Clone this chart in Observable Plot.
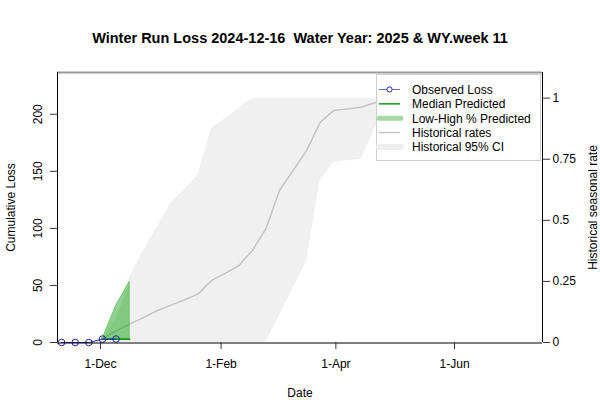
<!DOCTYPE html>
<html><head><meta charset="utf-8">
<script src="https://cdn.jsdelivr.net/npm/d3@7"></script>
<script src="https://cdn.jsdelivr.net/npm/@observablehq/plot@0.6"></script>
<style>body{margin:0;background:#fff}</style>
</head><body><div id="chart"></div>
<script>
// ---- data ----
const titleText = "Winter Run Loss 2024-12-16  Water Year: 2025 & WY.week 11";
const obsDates = ["2024-11-11","2024-11-18","2024-11-25","2024-12-02","2024-12-09"];
const obsLoss = [0,0,0,3,3];
const predDates = ["2024-12-02","2024-12-09","2024-12-16"];
const predMedian = [3,3,3];
const predLow = [3,3,3];
const predHighOuter = [3,32,53];
const predHighInner = [3,21,51];
const histDates = ["2024-12-02","2024-12-09","2024-12-16","2024-12-23","2024-12-30","2025-01-06","2025-01-13","2025-01-20","2025-01-27","2025-02-03","2025-02-10","2025-02-17","2025-02-24","2025-03-03","2025-03-10","2025-03-17","2025-03-24","2025-03-31","2025-04-07","2025-04-14","2025-04-21","2025-04-28"];
const histRate  = [0.016,0.048,0.075,0.102,0.13,0.152,0.174,0.198,0.253,0.283,0.314,0.376,0.465,0.622,0.704,0.786,0.902,0.95,0.956,0.963,0.981,1.0];
const histUpper = [0.016,0.144,0.266,0.376,0.47,0.567,0.625,0.684,0.875,0.916,0.957,1.0,1.0,1.0,1.0,1.0,1.0,1.0,1.0,1.0,1.0,1.0];
const histLower = [0,0,0,0,0,0,0,0,0,0,0,0,0,0.11,0.22,0.335,0.663,0.738,0.744,0.749,0.875,1.0];
const xTicks = ["2024-12-01","2025-02-01","2025-04-01","2025-06-01"];
const lossTicks = [0,50,100,150,200];
const rateTicks = [0,0.25,0.5,0.75,1];
const xDomain = ["2024-11-08T21:36:00Z","2025-07-16T05:00:00Z"];
const lossMax = 236.6, rateMax = 1.105;

// ---- build ----
const K = lossMax / rateMax; // loss units per rate unit (right axis)
const P = d => new Date(d);
const obs = obsDates.map((d,i)=>({date:P(d), v:obsLoss[i]}));
const pred = predDates.map((d,i)=>({date:P(d), med:predMedian[i], lo:predLow[i], hiO:predHighOuter[i], hiI:predHighInner[i]}));
const hist = histDates.map((d,i)=>({date:P(d), r:histRate[i]*K, lo:histLower[i]*K, hi:histUpper[i]*K}));
const xd = xDomain.map(P);
const font = "Liberation Sans, Arial, Helvetica, sans-serif";

const svg = Plot.plot({
  width: 600, height: 400,
  marginLeft: 57, marginRight: 58, marginTop: 72, marginBottom: 58,
  style: {fontFamily: font, fontSize: "12px", background: "white", color: "black"},
  x: {type: "utc", domain: xd},
  y: {domain: [0, lossMax]},
  marks: [
    Plot.areaY(hist, {x: "date", y1: "lo", y2: "hi", fill: "#f0f0f0"}),
    Plot.lineY(hist, {x: "date", y: "r", stroke: "#c4c4c4", strokeWidth: 1.5}),
    Plot.areaY(pred, {x: "date", y1: "lo", y2: "hiO", fill: "#22aa22", fillOpacity: 0.45, stroke: "#3cbb3c", strokeOpacity: 0.8, strokeWidth: 0.8}),
    Plot.areaY(pred, {x: "date", y1: "lo", y2: "hiI", fill: "#22aa22", fillOpacity: 0.15}),
    Plot.lineY(pred, {x: "date", y: "med", stroke: "#129a12", strokeWidth: 1.8}),
    Plot.lineY(obs, {x: "date", y: "v", stroke: "#2a2ab0", strokeWidth: 1}),
    Plot.dot(obs, {x: "date", y: "v", r: 3.3, stroke: "#2020a8", strokeWidth: 1, fill: "none"}),
    // plot box
    Plot.ruleY([lossMax], {stroke: "#9a9a9a", strokeWidth: 2}),
    Plot.ruleX([xd[0]], {stroke: "black"}),
    Plot.ruleX([xd[1]], {stroke: "black"}),
    Plot.ruleY([0], {stroke: "black", dy: 0.5}),
    // axes
    Plot.axisX(xTicks.map(P), {tickSize: 7, tickPadding: 10, tickFormat: d3.utcFormat("%-d-%b"), label: null, stroke: "#333"}),
    Plot.axisY(lossTicks, {anchor: "left", tickSize: 7, tickPadding: 9, tickRotate: -90, label: null, stroke: "#333"}),
    Plot.axisY(rateTicks.map(r => r * K), {anchor: "right", tickSize: 7, tickPadding: 3, label: null, stroke: "#333",
      tickFormat: v => d3.format("~g")(+(v / K).toFixed(4))}),
    // titles
    Plot.text([titleText], {frameAnchor: "top", dy: -29.7, lineAnchor: "bottom", textAnchor: "middle", fontWeight: "bold", fontSize: 14.5}),
    Plot.text(["Date"], {frameAnchor: "bottom", dy: 54.7, lineAnchor: "bottom", textAnchor: "middle"}),
    Plot.text(["Cumulative Loss"], {frameAnchor: "left", dx: -43, rotate: -90, lineAnchor: "bottom", textAnchor: "middle"}),
    Plot.text(["Historical seasonal rate"], {frameAnchor: "right", dx: 54.7, rotate: -90, lineAnchor: "bottom", textAnchor: "middle"})
  ]
});

// ---- legend ----
const legendItems = [
  {label: "Observed Loss", kind: "obs"},
  {label: "Median Predicted", kind: "med"},
  {label: "Low-High % Predicted", kind: "band"},
  {label: "Historical rates", kind: "hist"},
  {label: "Historical 95% CI", kind: "ci"}
];
const lg = d3.select(svg).append("g").attr("font-family", font).attr("font-size", 12).attr("text-anchor", "start");
lg.append("rect").attr("x", 376.5).attr("y", 74.5).attr("width", 164).attr("height", 86)
  .attr("fill", "white").attr("stroke", "#cfcfcf");
legendItems.forEach((it, i) => {
  const y = 89.5 + i * 14.35;
  const row = lg.append("g");
  if (it.kind === "obs") {
    row.append("line").attr("x1", 379).attr("x2", 400).attr("y1", y).attr("y2", y).attr("stroke", "#6a6ac8");
    row.append("circle").attr("cx", 389.5).attr("cy", y).attr("r", 2.6).attr("fill", "white").attr("stroke", "#2020a8");
  } else if (it.kind === "med") {
    row.append("line").attr("x1", 379).attr("x2", 400).attr("y1", y).attr("y2", y).attr("stroke", "#129a12").attr("stroke-width", 1.5);
  } else if (it.kind === "band") {
    row.append("line").attr("x1", 379).attr("x2", 401).attr("y1", y).attr("y2", y).attr("stroke", "#a6d9a6").attr("stroke-width", 5).attr("stroke-linecap", "round");
  } else if (it.kind === "hist") {
    row.append("line").attr("x1", 379).attr("x2", 400).attr("y1", y).attr("y2", y).attr("stroke", "#bdbdbd").attr("stroke-width", 1.2);
  } else {
    row.append("line").attr("x1", 379).attr("x2", 401).attr("y1", y).attr("y2", y).attr("stroke", "#eeeeee").attr("stroke-width", 6).attr("stroke-linecap", "round");
  }
  row.append("text").attr("x", 412).attr("y", y + 4.3).attr("fill", "black").attr("text-anchor", "start").text(it.label);
});

document.getElementById("chart").appendChild(svg);
</script>
</body></html>
